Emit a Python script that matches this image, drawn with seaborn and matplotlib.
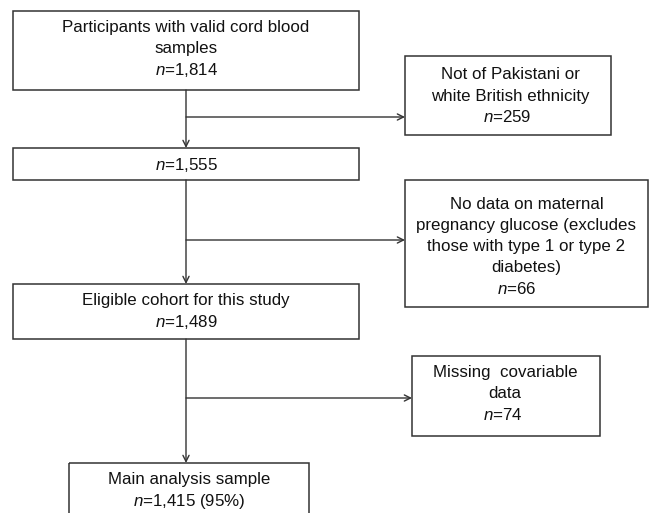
import matplotlib
matplotlib.use("Agg")
import matplotlib.pyplot as plt
from matplotlib.patches import Rectangle
import seaborn as sns

# ---- data ----
main_titles = [["Participants with valid cord blood", "samples"], [], ["Eligible cohort for this study"], ["Main analysis sample"]]
main_counts = [1814, 1555, 1489, 1415]
main_pct = [None, None, None, 95]
excl_titles = [["Not of Pakistani or", "white British ethnicity"],
               ["No data on maternal", "pregnancy glucose (excludes", "those with type 1 or type 2", "diabetes)"],
               ["Missing  covariable", "data"]]
excl_counts = [259, 66, 74]

sns.set_theme(style="white")
plt.rcParams['font.family'] = ['Liberation Sans', 'DejaVu Sans']
plt.rcParams['mathtext.fontset'] = 'custom'
plt.rcParams['mathtext.rm'] = 'Liberation Sans'
plt.rcParams['mathtext.it'] = 'Liberation Sans:italic'

fig = plt.figure(figsize=(6.49, 5.13), dpi=100)
ax = fig.add_axes([0, 0, 1, 1])
ax.set_xlim(0, 649)
ax.set_ylim(513, 0)
ax.axis('off')

LC = '#333333'
FS = 12.2
LSP = 21.2

# layout: (x0, y0, x1, y1, text-center-x, text-center-y, n-line x shift)
main_layout = [(13, 11, 359, 90, 186, 48.5, 0),
               (13, 148, 359, 180, 186, 165.5, 0),
               (13, 284, 359, 339, 186, 311, 0),
               (69, 463, 309, 530, 189, 490.5, 0)]
excl_layout = [(405, 56, 611, 135, 510, 96, -3),
               (405, 180, 648, 307, 526.5, 246.5, -10),
               (412, 356, 600, 436, 505, 394, -2)]

def fmt_n(c, pct=None):
    s = r"$\it{n}$=" + f"{c:,}"
    if pct is not None:
        s += f" ({pct}%)"
    return s

def box(layout, title_lines, count, pct=None):
    x0, y0, x1, y1, tx, ty, nshift = layout
    ax.add_patch(Rectangle((x0, y0), x1 - x0, y1 - y0, fill=False, ec=LC, lw=1.1))
    lines = list(title_lines) + [fmt_n(count, pct)]
    k = len(lines)
    for i, ln in enumerate(lines):
        y = ty + (i - (k - 1) / 2) * LSP
        x = tx + (nshift if i == k - 1 else 0)
        ax.text(x, y, ln, ha='center', va='center', fontsize=FS, color='#111111')

for lay, t, c, p in zip(main_layout, main_titles, main_counts, main_pct):
    box(lay, t, c, p)
for lay, t, c in zip(excl_layout, excl_titles, excl_counts):
    box(lay, t, c)

cx = 186
arrow_kw = dict(arrowstyle='->', color=LC, lw=1.0, mutation_scale=11, shrinkA=0, shrinkB=0)
for (a, b) in [(main_layout[0][3], main_layout[1][1]),
               (main_layout[1][3], main_layout[2][1]),
               (main_layout[2][3], main_layout[3][1])]:
    ax.annotate('', xy=(cx, b), xytext=(cx, a), arrowprops=arrow_kw)
branch_y = [117, 240, 398]
for by, lay in zip(branch_y, excl_layout):
    ax.annotate('', xy=(lay[0], by), xytext=(cx, by), arrowprops=arrow_kw)

fig.savefig('out.png', dpi=100, facecolor='white')
